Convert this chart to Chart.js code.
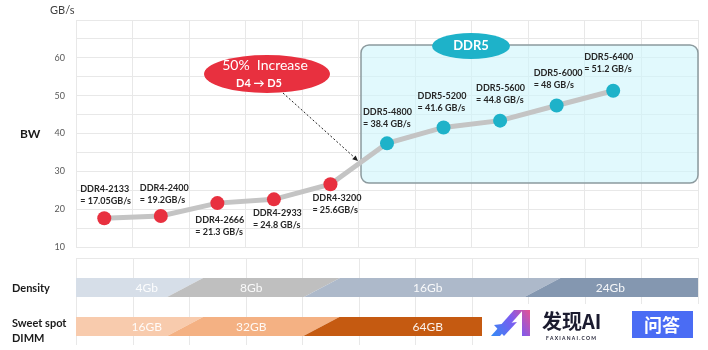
<!DOCTYPE html>
<html>
<head>
<meta charset="utf-8">
<script src="https://cdn.jsdelivr.net/npm/chart.js@4.4.0/dist/chart.umd.min.js"></script>
<style>
  body { margin: 0; background: #fff; }
  #wrap { width: 708px; height: 350px; position: relative; }
</style>
</head>
<body>
<div id="wrap"><canvas id="bwChart"></canvas></div>
<script>
// memory generations (x categories), last slot is empty space
const categories = ['DDR4-2133', 'DDR4-2400', 'DDR4-2666', 'DDR4-2933', 'DDR4-3200',
                    'DDR5-4800', 'DDR5-5200', 'DDR5-5600', 'DDR5-6000', 'DDR5-6400', ''];
// plotted bandwidth (GB/s)
const bandwidth = [17.6, 18.2, 21.6, 22.6, 26.6, 37.4, 41.6, 43.4, 47.4, 51.3, null];
// text shown beside each point
const bwText = ['= 17.05GB/s', '= 19.2GB/s', '= 21.3 GB/s', '= 24.8 GB/s', '= 25.6GB/s',
                '= 38.4 GB/s', '= 41.6 GB/s', '= 44.8 GB/s', '= 48 GB/s', '= 51.2 GB/s'];
const yTicks = [10, 20, 30, 40, 50, 60];

// lower bands, edges in category units
const densityLabels = ['4Gb', '8Gb', '16Gb', '24Gb'];
const densityEdges = [-0.5, 1.43, 3.85, 7.75, 10.5];
const dimmLabels = ['16GB', '32GB', '64GB'];
const dimmEdges = [-0.5, 1.43, 3.84, 6.68];

const RED = '#e8303f';
const CYAN = '#1eb2c9';
const FONT = 'Lato, "Open Sans", sans-serif';

// label offsets from each point (left x, first line y)
const labelOff = [[-24, -29], [-21, -28], [-22, 17], [-21, 14], [-18, 14],
                  [-24, -31], [-26, -31], [-24, -33], [-23, -32], [-29, -34]];
const densityColors = ['#d6dee8', '#bfbfbf', '#adb9ca', '#8497b0'];
const densityTextAt = [0.75, 2.6, 5.72, 8.95];
const dimmColors = ['#f8cbad', '#f4b183', '#c55a11'];
const dimmTextAt = [0.75, 2.6, 5.72];

function ellipse(ctx, cx, cy, rx, ry, fill) {
    ctx.beginPath();
    ctx.ellipse(cx, cy, rx, ry, 0, 0, Math.PI * 2);
    ctx.fillStyle = fill;
    ctx.fill();
}

function bandRow(ctx, x, edges, labels, colors, textAt, top, bottom) {
    const slant = 18;
    for (let i = 0; i < labels.length; i++) {
        const l = x.getPixelForValue(edges[i]);
        const r = x.getPixelForValue(edges[i + 1]);
        const first = i === 0, last = i === labels.length - 1;
        ctx.beginPath();
        ctx.moveTo(first ? l : l + slant, top);
        ctx.lineTo(last ? r : r + slant, top);
        ctx.lineTo(last ? r : r - slant, bottom);
        ctx.lineTo(first ? l : l - slant, bottom);
        ctx.closePath();
        ctx.fillStyle = colors[i];
        ctx.fill();
    }
    ctx.fillStyle = 'rgba(255,255,255,0.92)';
    ctx.font = '12px ' + FONT;
    ctx.textAlign = 'center';
    ctx.textBaseline = 'middle';
    labels.forEach((t, i) => ctx.fillText(t, x.getPixelForValue(textAt[i]), (top + bottom) / 2 + 1));
}

const decor = {
    id: 'decor',
    beforeDatasetsDraw(chart) {
        const ctx = chart.ctx;
        ctx.save();
        // DDR5 box
        ctx.beginPath();
        ctx.roundRect(361, 45, 337, 138, 8);
        ctx.fillStyle = 'rgba(205,245,252,0.6)';
        ctx.fill();
        ctx.strokeStyle = '#8c9a9e';
        ctx.lineWidth = 1.5;
        ctx.stroke();
        ellipse(ctx, 471, 46, 39, 13, CYAN);
        ctx.fillStyle = '#fff';
        ctx.font = 'bold 13px ' + FONT;
        ctx.textAlign = 'center';
        ctx.textBaseline = 'middle';
        ctx.fillText('DDR5', 471, 46);
        ctx.restore();
    },
    afterDatasetsDraw(chart) {
        const ctx = chart.ctx;
        const meta = chart.getDatasetMeta(0);
        ctx.save();
        // point labels
        ctx.fillStyle = '#262626';
        ctx.font = 'bold 9px ' + FONT;
        ctx.textAlign = 'left';
        ctx.textBaseline = 'middle';
        bwText.forEach((t, i) => {
            const p = meta.data[i];
            const lx = p.x + labelOff[i][0], ly = p.y + labelOff[i][1];
            ctx.fillText(categories[i], lx, ly);
            ctx.fillText(t, lx, ly + 12);
        });
        // dashed arrow
        ctx.strokeStyle = '#222';
        ctx.lineWidth = 1;
        ctx.setLineDash([2, 2]);
        ctx.beginPath();
        ctx.moveTo(283, 93);
        ctx.lineTo(355, 158);
        ctx.stroke();
        ctx.setLineDash([]);
        const ang = Math.atan2(160 - 93, 358 - 283);
        ctx.beginPath();
        ctx.moveTo(358, 161);
        ctx.lineTo(358 - 6 * Math.cos(ang - 0.45), 161 - 6 * Math.sin(ang - 0.45));
        ctx.lineTo(358 - 6 * Math.cos(ang + 0.45), 161 - 6 * Math.sin(ang + 0.45));
        ctx.closePath();
        ctx.fillStyle = '#222';
        ctx.fill();
        // red callout
        ellipse(ctx, 267, 74, 63, 19, RED);
        ctx.fillStyle = '#fff';
        ctx.textAlign = 'center';
        ctx.font = '14px ' + FONT;
        ctx.fillText('50%  Increase', 265, 65);
        ctx.font = 'bold 11px ' + FONT;
        ctx.fillText('D4 \u2192 D5', 259, 83);
        ctx.restore();
    },
    afterDraw(chart) {
        const ctx = chart.ctx;
        const x = chart.scales.x;
        const area = chart.chartArea;
        ctx.save();
        // axis captions
        ctx.fillStyle = '#404040';
        ctx.font = '11px ' + FONT;
        ctx.textAlign = 'left';
        ctx.textBaseline = 'middle';
        ctx.fillText('GB/s', 50, 10);
        ctx.fillStyle = '#1a1a1a';
        ctx.font = 'bold 12px ' + FONT;
        ctx.fillText('BW', 20, 134);
        ctx.font = 'bold 11px ' + FONT;
        ctx.fillText('Density', 12, 288);
        ctx.fillText('Sweet spot', 12, 323);
        ctx.fillText('DIMM', 12, 338);
        // lower grid
        ctx.strokeStyle = '#e8e8e8';
        ctx.lineWidth = 1;
        ctx.beginPath();
        ctx.moveTo(area.left, 258.5);
        ctx.lineTo(area.right, 258.5);
        for (let i = 0; i <= categories.length; i++) {
            const gx = Math.round(x.getPixelForValue(i - 0.5)) + 0.5;
            ctx.moveTo(gx, 258);
            ctx.lineTo(gx, 345);
        }
        ctx.stroke();
        bandRow(ctx, x, densityEdges, densityLabels, densityColors, densityTextAt, 278, 297);
        bandRow(ctx, x, dimmEdges, dimmLabels, dimmColors, dimmTextAt, 317, 336);
        // watermark
        ctx.fillStyle = '#fff';
        ctx.fillRect(486, 304, 214, 44);
        const g = ctx.createLinearGradient(490, 336, 532, 310);
        g.addColorStop(0, '#2f8cf5');
        g.addColorStop(0.55, '#7b5cf0');
        g.addColorStop(1, '#f0508a');
        ctx.fillStyle = g;
        ctx.beginPath();
        ctx.moveTo(491, 336); ctx.lineTo(500, 336); ctx.lineTo(523, 310); ctx.lineTo(514, 310);
        ctx.closePath();
        ctx.fill();
        ctx.fillRect(522, 310, 8, 26);
        ctx.beginPath();
        ctx.moveTo(494, 325); ctx.lineTo(517, 322); ctx.lineTo(504, 336);
        ctx.closePath();
        ctx.fill();
        ctx.fillStyle = '#1b1b2f';
        ctx.font = 'bold 20px "Noto Sans CJK SC", sans-serif';
        ctx.textAlign = 'left';
        ctx.fillText('发现AI', 542, 321);
        ctx.font = 'bold 5px ' + FONT;
        ctx.fillText('F A X I A N A I . C O M', 546, 338);
        ctx.fillStyle = '#4a6cf4';
        ctx.fillRect(632, 311, 61, 27);
        ctx.fillStyle = '#fff';
        ctx.font = 'bold 18px "Noto Sans CJK SC", sans-serif';
        ctx.textAlign = 'center';
        ctx.fillText('问答', 662, 325);
        ctx.restore();
    }
};

const pointColors = categories.map(c => c.startsWith('DDR5') ? CYAN : RED);

new Chart(document.getElementById('bwChart'), {
    type: 'line',
    data: {
        labels: categories,
        datasets: [{
            data: bandwidth,
            borderColor: '#c4c4c4',
            borderWidth: 5,
            pointBackgroundColor: pointColors,
            pointBorderColor: pointColors,
            pointBorderWidth: 0,
            pointRadius: 7,
            tension: 0
        }]
    },
    options: {
        responsive: true,
        maintainAspectRatio: false,
        animation: false,
        layout: { padding: { top: 20, right: 10, bottom: 103, left: 0 } },
        plugins: { legend: { display: false }, tooltip: { enabled: false } },
        scales: {
            x: {
                offset: true,
                grid: { color: '#e8e8e8', offset: true, drawTicks: false },
                border: { display: false },
                ticks: { display: false },
                afterFit: axis => { axis.height = 0; }
            },
            y: {
                min: 10,
                max: 70,
                grid: { color: '#e8e8e8', drawTicks: false },
                border: { display: false },
                afterFit: axis => { axis.width = 76; },
                ticks: {
                    stepSize: 5,
                    padding: 11,
                    color: '#595959',
                    font: { family: FONT, size: 9 },
                    callback: v => yTicks.includes(v) ? v : ''
                }
            }
        }
    },
    plugins: [decor]
});
</script>
</body>
</html>
